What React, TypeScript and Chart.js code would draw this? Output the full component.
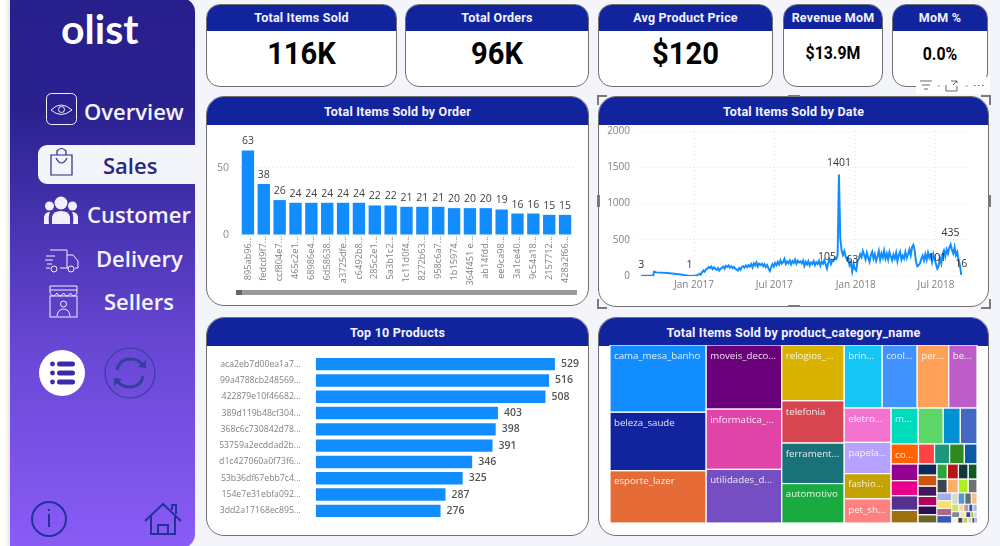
import { useEffect, useRef } from 'react';
import { Chart, registerables } from 'chart.js';

Chart.register(...registerables);

const BLUE = '#118dff';
const NAVY = '#12239e';
const SANS = '"Open Sans", sans-serif';
const HEAD = 'Roboto, sans-serif';

// Total Items Sold by Order
const orderIds = ['895ab96...', 'fedcd9f7...', 'ccf804e7...', '465c2e1...', '68986e4...', '6d58638...', 'a3725dfe...', 'c6492b8...', '285c2e1...', '5a3b1c2...', '1c11d0f4...', '8272b63...', '958c6a7...', '1b15974...', '364f451 e...', 'ab14fdd...', 'ee9ca98...', '3a1ce40...', '9c54a18...', '2157712...', '428a2f66...'];
const orderItems = [63, 38, 26, 24, 24, 24, 24, 24, 22, 22, 21, 21, 21, 20, 20, 20, 19, 16, 16, 15, 15];

// Total Items Sold by Date, days counted from 1 Jan 2017
const earlyDays = [-119, -110, -100, -92, -90, -85, -60, -30, -10, 0];
const earlyItems = [3, 5, 4, 8, 60, 50, 40, 20, 1, 5];
// one reading every third day, from 4 Jan 2017
const laterItems = [
  5, 10, 15, 30, 18, 50, 75, 60, 90, 100,
  125, 110, 130, 95, 120, 100, 85, 110, 75, 100,
  115, 130, 100, 140, 125, 145, 115, 135, 110, 125,
  100, 90, 75, 110, 85, 125, 135, 115, 145, 120,
  150, 130, 165, 120, 175, 145, 185, 130, 170, 150,
  170, 135, 165, 125, 150, 105, 70, 120, 165, 130,
  180, 150, 195, 160, 215, 170, 190, 235, 165, 200,
  175, 215, 160, 205, 180, 225, 170, 210, 185, 200,
  175, 215, 140, 195, 160, 205, 145, 185, 165, 205,
  150, 190, 165, 210, 145, 195, 170, 215, 160, 105,
  190, 230, 165, 215, 205, 250, 235, 285,
  1401,
  520, 350, 290, 345, 270, 225, 250, 150, 190,
  63, 170, 95, 75, 210,
  240, 300, 260, 345, 290, 230, 320, 250, 195, 290,
  335, 240, 300, 210, 270, 345, 225, 310, 255, 350,
  240, 305, 225, 330, 270, 215, 295, 240, 320, 205,
  290, 335, 225, 280, 240, 330, 250, 300, 365, 285,
  400, 430, 350, 190, 135, 150, 175, 240, 280, 215,
  300, 225, 320, 250, 290, 195, 300, 230, 165, 101,
  140, 250, 175, 300, 350, 270, 365, 310, 390, 435,
  360, 310, 395, 285, 330, 220, 150, 16,
];
const dateTickDays = [0, 181, 365, 546];
const dateTickLabels = ['Jan 2017', 'Jul 2017', 'Jan 2018', 'Jul 2018'];
const labelledDays = [-119, -10, 300, 327, 357, 549, 579, 603];

// Top 10 Products
const productIds = ['aca2eb7d00ea1a7...', '99a4788cb248569...', '422879e10f46682...', '389d119b48cf304...', '368c6c730842d78...', '53759a2ecddad2b...', 'd1c427060a0f73f6...', '53b36df67ebb7c4...', '154e7e31ebfa092...', '3dd2a17168ec895...'];
const productItems = [529, 516, 508, 403, 398, 391, 346, 325, 287, 276];

// Total Items Sold by product_category_name
const treeLabels = ['cama_mesa_banho', 'beleza_saude', 'esporte_lazer', 'moveis_deco...', 'informatica_...', 'utilidades_d...', 'relogios_...', 'telefonia', 'ferrament...', 'automotivo', 'brin...', 'cool...', 'per...', 'be...', 'eletro...', 'papela...', 'fashio...', 'pet_sh...', 'm...', '', '', '', 'co...'];
const treeItems = [
  11115, 9670, 8641,
  8334, 7827, 6964,
  5991, 4545, 4347, 4235,
  4117, 3796, 3419, 3065,
  2767, 2517, 2031, 1947,
  1672, 1548, 1053, 1027,
  943, 553, 518, 508, 435,
  773, 697, 678, 583,
  366, 356, 333, 310, 290, 266,
  271, 289, 255, 229,
  247, 264, 233, 209,
  199, 199, 181, 186,
  122, 129, 122, 110,
  92, 66, 66, 53, 53,
  77, 58, 48, 29, 29,
  58, 48, 48, 38, 29, 19,
];
const treeColors = [
  '#118dff', '#12239e', '#e66c37',
  '#6b007b', '#e044a7', '#744ec2',
  '#d9b300', '#d64550', '#197278', '#1aab40',
  '#15c6f4', '#4092ff', '#ffa058', '#be5dc9',
  '#f472d0', '#b5a1ff', '#c4a200', '#ff8080',
  '#00dbbc', '#5bd667', '#0091d5', '#4668c5',
  '#ff6300', '#ff4343', '#1f9580', '#2d8a1f', '#0a5aa5',
  '#960090', '#e8008c', '#54308f', '#9c6f0f',
  '#0d2a5c', '#c85510', '#3f1a5a', '#b00060', '#2a1050', '#6b6428',
  '#2aa53a', '#b81515', '#0f3a3a', '#0f5a25',
  '#3c4450', '#fbb06a', '#aef020', '#6e7276',
  '#a0b1ea', '#ffe066', '#ab6b82', '#3a58b2',
  '#dcd8d2', '#5596cf', '#5f6f78', '#f7c08f',
  '#c5e860', '#f5d9a5', '#b59aa8', '#33509a', '#a8b8e0',
  '#7d8a90', '#f0e2c0', '#3a4a80', '#a0c040', '#c0d8f0',
  '#f5f0e0', '#3c4450', '#bfcf50', '#dbd0c0', '#33509a', '#808890',
];
// how the cells are cut: how many go in each strip and which way it runs
const treeStripSizes = [3, 3, 4, 4, 4, 4, 5, 4, 6, 4, 4, 4, 4, 5, 5, 6];
const treeStripIsColumn = [true, true, true, false, true, false, false, true, true, false, false, true, false, false, false, false];

const treeTotal = treeItems.reduce((a, b) => a + b, 0);
const treeWidth = Math.sqrt(treeTotal * (366.3 / 177));
const treeHeight = treeTotal / treeWidth;

function layoutTree() {
  const cells: { x0: number; x1: number; y0: number; y1: number }[] = [];
  let x = 0;
  let y = 0;
  let w = treeWidth;
  let h = treeHeight;
  let i = 0;
  treeStripSizes.forEach((n, s) => {
    const part = treeItems.slice(i, i + n);
    const sum = part.reduce((a, b) => a + b, 0);
    let pos = 0;
    if (treeStripIsColumn[s]) {
      const cw = sum / h;
      part.forEach((v) => {
        cells.push({ x0: x, x1: x + cw, y0: y + pos, y1: y + pos + v / cw });
        pos += v / cw;
      });
      x += cw;
      w -= cw;
    } else {
      const ch = sum / w;
      part.forEach((v) => {
        cells.push({ x0: x + pos, x1: x + pos + v / ch, y0: y, y1: y + ch });
        pos += v / ch;
      });
      y += ch;
      h -= ch;
    }
    i += n;
  });
  return cells;
}

function useChart(config: () => any) {
  const ref = useRef<HTMLCanvasElement>(null);
  useEffect(() => {
    if (!ref.current) return;
    const chart = new Chart(ref.current, config());
    return () => chart.destroy();
  }, []);
  return ref;
}

const dotted = { color: '#e2e2e2', lineWidth: 1, drawTicks: false };
const dottedBorder = { display: false, dash: [1, 3] };

// fixed axis sizes, and no extra room for the half of a label that sticks out
const fitAxis = (size: { width?: number; height?: number }) => (s: any) => {
  if (size.width) s.width = size.width;
  if (size.height) s.height = size.height;
  s.paddingTop = 0;
  s.paddingBottom = 0;
  s.paddingLeft = 0;
  s.paddingRight = 0;
};

function OrderChart() {
  const ref = useChart(() => ({
    type: 'bar',
    data: {
      labels: orderIds,
      datasets: [{ data: orderItems, backgroundColor: BLUE, categoryPercentage: 1, barPercentage: 0.78 }],
    },
    options: {
      animation: false,
      responsive: false,
      layout: { autoPadding: false, padding: { top: 16, right: 15 } },
      plugins: { legend: { display: false }, tooltip: { enabled: false } },
      scales: {
        x: {
          grid: { display: false },
          border: { display: false },
          ticks: { autoSkip: false, minRotation: 90, maxRotation: 90, padding: -7, color: '#808080', font: { family: SANS, size: 9.2 } },
          afterFit: fitAxis({ height: 70 }),
        },
        y: {
          min: 0,
          max: 70,
          grid: dotted,
          border: dottedBorder,
          ticks: { stepSize: 50, includeBounds: false, padding: 11, color: '#8a8a8a', font: { family: SANS, size: 10.5 } },
          afterFit: fitAxis({ width: 33 }),
        },
      },
    },
    plugins: [{
      id: 'barValues',
      afterDatasetsDraw(chart: any) {
        const c = chart.ctx;
        c.save();
        c.font = `10.5px ${SANS}`;
        c.fillStyle = '#404040';
        c.textAlign = 'center';
        chart.getDatasetMeta(0).data.forEach((bar: any, i: number) => {
          c.fillText(String(orderItems[i]), bar.x, bar.y - 6);
        });
        c.restore();
      },
    }],
  }));
  return <canvas ref={ref} width={381} height={180} style={abs(207, 125, 381, 180)} />;
}

function DateChart() {
  const ref = useChart(() => {
    const later = laterItems.map((v, i) => ({ x: (i + 1) * 3, y: v }));
    const early = earlyDays.map((d, i) => ({ x: d, y: earlyItems[i] }));
    const points = [...early, ...later];
    return {
      type: 'line',
      data: { datasets: [{ data: points, borderColor: BLUE, borderWidth: 2, pointRadius: 0, tension: 0 }] },
      options: {
        animation: false,
        responsive: false,
        layout: { autoPadding: false, padding: { top: 6, right: 21 } },
        plugins: { legend: { display: false }, tooltip: { enabled: false } },
        scales: {
          x: {
            type: 'linear',
            min: -128.7,
            max: 616,
            grid: dotted,
            border: { display: false, dash: [1, 3] },
            afterBuildTicks: (s: any) => { s.ticks = dateTickDays.map((value) => ({ value })); },
            ticks: {
              autoSkip: false,
              maxRotation: 0,
              padding: 3,
              color: '#808080',
              font: { family: SANS, size: 10 },
              callback: (v: number) => dateTickLabels[dateTickDays.indexOf(v)],
            },
            afterFit: fitAxis({ height: 29 }),
          },
          y: {
            min: 0,
            max: 2000,
            grid: dotted,
            border: dottedBorder,
            ticks: { stepSize: 500, padding: 7, color: '#808080', font: { family: SANS, size: 10 }, callback: (v: number) => String(v) },
            afterFit: fitAxis({ width: 38 }),
          },
        },
      },
      plugins: [{
        id: 'lineValues',
        afterDatasetsDraw(chart: any) {
          const c = chart.ctx;
          const { x, y } = chart.scales;
          c.save();
          c.font = `10.5px ${SANS}`;
          c.fillStyle = '#333333';
          c.textAlign = 'center';
          c.textBaseline = 'middle';
          labelledDays.forEach((d) => {
            const p = points.find((q) => q.x === d);
            if (p) c.fillText(String(p.y), x.getPixelForValue(d), y.getPixelForValue(p.y) - 11);
          });
          c.restore();
        },
      }],
    };
  });
  return <canvas ref={ref} width={389} height={180} style={abs(599, 125, 389, 180)} />;
}

function ProductChart() {
  const ref = useChart(() => ({
    type: 'bar',
    data: {
      labels: productIds,
      datasets: [{ data: productItems, backgroundColor: BLUE, categoryPercentage: 1, barPercentage: 0.76 }],
    },
    options: {
      indexAxis: 'y',
      animation: false,
      responsive: false,
      layout: { autoPadding: false, padding: { top: 10, right: 10, bottom: 16 } },
      plugins: { legend: { display: false }, tooltip: { enabled: false } },
      scales: {
        x: { display: false, min: 0, max: 580 },
        y: {
          grid: { display: false },
          border: { display: false },
          ticks: { autoSkip: false, padding: 7, color: '#808080', font: { family: SANS, size: 8.7 } },
          afterFit: fitAxis({ width: 108.7 }),
        },
      },
    },
    plugins: [{
      id: 'rowValues',
      afterDatasetsDraw(chart: any) {
        const c = chart.ctx;
        c.save();
        c.font = `600 10.5px ${SANS}`;
        c.fillStyle = '#555555';
        c.textBaseline = 'middle';
        chart.getDatasetMeta(0).data.forEach((bar: any, i: number) => {
          c.fillText(String(productItems[i]), bar.x + 6, bar.y);
        });
        c.restore();
      },
    }],
  }));
  return <canvas ref={ref} width={381} height={189} style={abs(207, 346, 381, 189)} />;
}

function CategoryTree() {
  const ref = useChart(() => {
    const cells = layoutTree();
    return {
      type: 'scatter',
      data: { datasets: [{ data: [] }] },
      options: {
        animation: false,
        responsive: false,
        layout: { autoPadding: false, padding: { left: 11, right: 11, top: 0, bottom: 12 } },
        plugins: { legend: { display: false }, tooltip: { enabled: false } },
        scales: {
          x: { display: false, min: 0, max: treeWidth },
          y: { display: false, min: 0, max: treeHeight, reverse: true },
        },
      },
      plugins: [{
        id: 'treeCells',
        afterDatasetsDraw(chart: any) {
          const c = chart.ctx;
          const { x, y } = chart.scales;
          c.save();
          c.textBaseline = 'middle';
          c.font = `9.7px ${SANS}`;
          cells.forEach((cell, i) => {
            const l = x.getPixelForValue(cell.x0);
            const r = x.getPixelForValue(cell.x1);
            const t = y.getPixelForValue(cell.y0);
            const b = y.getPixelForValue(cell.y1);
            c.fillStyle = treeColors[i];
            c.fillRect(l, t, r - l, b - t);
            c.strokeStyle = '#ffffff';
            c.lineWidth = i < 45 ? 1.2 : 0.8;
            c.strokeRect(l, t, r - l, b - t);
            if (treeLabels[i]) {
              c.fillStyle = 'rgba(255,255,255,0.88)';
              c.fillText(treeLabels[i], l + 4, t + 11);
            }
          });
          c.restore();
        },
      }],
    };
  });
  return <canvas ref={ref} width={389} height={190} style={abs(599, 345, 389, 190)} />;
}

function abs(left: number, top: number, width: number, height: number): React.CSSProperties {
  return { position: 'absolute', left, top, width, height };
}

function Panel({ x, y, w, h, title, head = 28, radius = 18, titleLine = 29, children }: any) {
  return (
    <div style={{ ...abs(x, y, w, h), boxSizing: 'border-box', background: '#fff', border: '1px solid #707070', borderRadius: radius, overflow: 'hidden' }}>
      <div style={{ height: head, background: NAVY, color: '#f2f4ff', font: `700 12.5px ${HEAD}`, letterSpacing: 0.2, lineHeight: `${titleLine}px`, textAlign: 'center' }}>{title}</div>
      {children}
    </div>
  );
}

function Kpi({ x, w, title, value, size, squeeze, head = 26 }: any) {
  return (
    <Panel x={x} y={4} w={w} h={83} title={title} head={head} radius={14} titleLine={25}>
      <div style={{ position: 'absolute', left: 0, right: 0, top: head - 2, bottom: 0, textAlign: 'center', color: '#000', font: `700 ${size}px ${HEAD}`, lineHeight: `${75 - head}px`, transform: `scaleX(${squeeze})` }}>{value}</div>
    </Panel>
  );
}

function SideLabel({ x, y, text, color = '#f4f4ff' }: any) {
  return <div style={{ position: 'absolute', left: x, top: y - 18, height: 36, lineHeight: '36px', color, font: `600 22px ${SANS}`, whiteSpace: 'nowrap' }}>{text}</div>;
}

function Sidebar() {
  const stroke = '#f0f0ff';
  return (
    <div style={{ ...abs(10, -2, 185, 550), background: 'linear-gradient(#271f8c 0%, #2a2190 20%, #6a48d6 65%, #8a5cf6 100%)', borderRadius: '0 14px 14px 0', boxShadow: '-2px 0 4px rgba(0,0,0,0.12)' }}>
      <svg width={185} height={550} style={{ position: 'absolute', left: 0, top: 0 }} viewBox="10 -2 185 550">
        {/* overview */}
        <rect x={46.5} y={93.5} width={30} height={31} rx={5} fill="none" stroke={stroke} />
        <path d="M51 110 Q61 100 72 110 Q61 119 51 110Z" fill="none" stroke={stroke} />
        <circle cx={61.5} cy={109.5} r={3} fill="none" stroke={stroke} />
        {/* customer */}
        <circle cx={61} cy={203} r={6.5} fill={stroke} />
        <circle cx={49.5} cy={206} r={4.5} fill={stroke} />
        <circle cx={72.5} cy={206} r={4.5} fill={stroke} />
        <path d="M52 224 V217 Q53 211 61 211 Q69 211 70 217 V224Z" fill={stroke} />
        <path d="M44 224 V217 Q45 212 50 212 Q48 216 49 224Z M78 224 V217 Q77 212 72 212 Q74 216 73 224Z" fill={stroke} />
        {/* delivery */}
        <path d="M50 250 H67 V268 H60 M50 268 H46 M67 255 H73 L78 261 V268 H75 M67 268 H68" fill="none" stroke={stroke} />
        <path d="M46 256 H55 M45 260 H53 M47 264 H52" stroke={stroke} />
        <circle cx={54} cy={269} r={3} fill="none" stroke={stroke} />
        <circle cx={71} cy={269} r={3} fill="none" stroke={stroke} />
        {/* sellers */}
        <rect x={50} y={296} width={27} height={21} fill="none" stroke={stroke} />
        <path d="M50 286 H77 V293 Q74 299 70.5 293 Q67 299 63.5 293 Q60 299 57 293 Q53 299 50 293Z M50 290 H77" fill="none" stroke={stroke} />
        <circle cx={63.5} cy={304} r={3} fill="none" stroke={stroke} />
        <path d="M57 316 Q58 309 63.5 309 Q69 309 70 316" fill="none" stroke={stroke} />
        {/* menu */}
        <circle cx={62} cy={373} r={23} fill="#fff" />
        <g fill="#3a2ba8">
          <circle cx={52.5} cy={364} r={2.4} /><circle cx={52.5} cy={373} r={2.4} /><circle cx={52.5} cy={382} r={2.4} />
          <rect x={57} y={361.5} width={18} height={5} rx={2.5} /><rect x={57} y={370.5} width={18} height={5} rx={2.5} /><rect x={57} y={379.5} width={18} height={5} rx={2.5} />
        </g>
        {/* refresh */}
        <circle cx={130} cy={373} r={25} fill="none" stroke="#33409f" strokeWidth={1.2} />
        <path d="M117 370 Q119 359 131 359 Q138 359 143 365 M143 376 Q141 387 129 387 Q122 387 117 381" fill="none" stroke="#33409f" strokeWidth={3} />
        <path d="M138 367 L146 368 L146 360Z M122 379 L114 378 L114 386Z" fill="#33409f" />
        {/* info */}
        <circle cx={49} cy={519} r={17} fill="none" stroke="#22329c" strokeWidth={2} />
        <path d="M49 514 V527 M49 509 V511" stroke="#22329c" strokeWidth={2} />
        {/* home */}
        <path d="M145 521 L163 504 L181 521 M151 516 V534 H175 V516 M158 534 V525 H168 V534 M172 510 V505 H176 V514" fill="none" stroke="#22329c" strokeWidth={2} />
      </svg>
      <div style={{ position: 'absolute', left: 51, top: 6, color: '#fff', font: `700 41px Lato, sans-serif`, lineHeight: '50px' }}>olist</div>
      <div style={{ ...abs(28, 147, 167, 39), background: '#f3f5fb', borderRadius: '9px 0 0 9px' }} />
      <svg width={30} height={34} style={{ position: 'absolute', left: 38, top: 148 }} viewBox="0 0 30 34">
        <path d="M3 9 H24 V29 H3Z" fill="none" stroke="#2b2a86" strokeWidth={1.2} />
        <path d="M9 9 V5 Q13.5 0 18 5 V9 M8 12 Q13.5 22 19 12" fill="none" stroke="#2b2a86" strokeWidth={1.2} />
      </svg>
      <SideLabel x={74} y={116} text="Overview" />
      <SideLabel x={93} y={170} text="Sales" color="#252a80" />
      <SideLabel x={77} y={219} text="Customer" />
      <SideLabel x={86} y={263} text="Delivery" />
      <SideLabel x={94} y={306} text="Sellers" />
    </div>
  );
}

function Handles() {
  const g = '#7a7a7a';
  const corner = (l: number, t: number, bw: string) => (
    <div style={{ ...abs(l, t, 10, 10), boxSizing: 'border-box', borderStyle: 'solid', borderColor: g, borderWidth: bw }} />
  );
  return (
    <>
      {corner(597, 95, '2px 0 0 2px')}
      {corner(981, 95, '2px 2px 0 0')}
      {corner(597, 299, '0 0 2px 2px')}
      {corner(981, 299, '0 2px 2px 0')}
      <div style={{ ...abs(788, 95, 12, 2), background: g }} />
      <div style={{ ...abs(788, 305, 12, 2), background: g }} />
      <div style={{ ...abs(597, 195, 3, 12), background: g }} />
      <div style={{ ...abs(988, 195, 3, 12), background: g }} />
      <div style={{ ...abs(916, 77, 74, 17), background: '#fff' }} />
      <svg width={74} height={17} style={{ position: 'absolute', left: 916, top: 77 }}>
        <path d="M4 4 H16 M6 8 H14 M8 12 H12" stroke="#666" />
        <path d="M21 9 H24 M49 9 H52" stroke="#aaa" />
        <path d="M30 8 V14 H41 V9 M35 4 H41 V6 M37 8 L41 4" fill="none" stroke="#666" />
        <path d="M58 8.5 H59.5 M62 8.5 H63.5 M66 8.5 H67.5" stroke="#666" />
      </svg>
    </>
  );
}

export default function App() {
  return (
    <div style={{ position: 'fixed', left: 0, top: 0, width: 1000, height: 546, overflow: 'hidden', background: '#f3f5fb' }}>
      <div style={{ ...abs(0, 0, 10, 546), background: '#fff' }} />
      <Sidebar />
      <Kpi x={206} w={191} title="Total Items Sold" value="116K" size={31} squeeze={0.94} />
      <Kpi x={405} w={184} title="Total Orders" value="96K" size={31} squeeze={0.94} />
      <Kpi x={598} w={175} title="Avg Product Price" value="$120" size={31} squeeze={0.94} />
      <Kpi x={783} w={100} title="Revenue MoM" value="$13.9M" size={18} squeeze={0.88} head={24} />
      <Kpi x={892} w={96} title="MoM %" value="0.0%" size={18} squeeze={0.88} />
      <Panel x={206} y={96} w={383} h={210} title="Total Items Sold by Order" />
      <Panel x={598} y={96} w={391} h={211} title="Total Items Sold by Date" />
      <Panel x={206} y={317} w={383} h={219} title="Top 10 Products" />
      <Panel x={598} y={317} w={391} h={219} title="Total Items Sold by product_category_name" />
      <OrderChart />
      <div style={{ ...abs(236, 290, 341, 5), background: '#9a9a9a' }} />
      <div style={{ ...abs(236, 290, 6, 5), background: '#666' }} />
      <DateChart />
      <ProductChart />
      <CategoryTree />
      <Handles />
    </div>
  );
}
